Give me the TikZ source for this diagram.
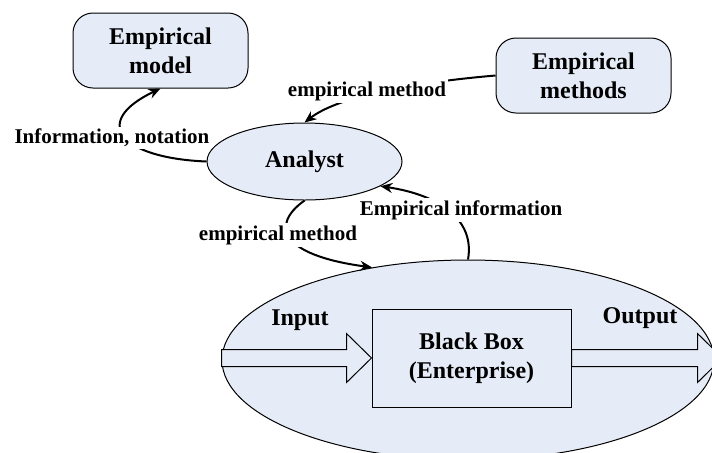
\documentclass[tikz,border=0pt]{standalone}
\usepackage{fontspec}
\setmainfont{Liberation Serif}
\usetikzlibrary{shapes.geometric,arrows.meta}
\definecolor{boxfill}{RGB}{230,236,247}

\begin{document}
\begin{tikzpicture}[x=1pt,y=1pt,
  bignode/.style={font=\fontsize{12}{14.5}\selectfont\bfseries, align=center},
  roundbox/.style={bignode, draw, line width=0.5pt, fill=boxfill, rounded corners=10pt,
    minimum width=87.5pt, minimum height=37.5pt},
  oval/.style={bignode, draw, line width=0.5pt, fill=boxfill, ellipse, inner sep=0pt},
  flowlabel/.style={font=\fontsize{10.5}{12}\selectfont\bfseries, fill=white, inner sep=1pt},
  link/.style={line width=1pt, -{Stealth[length=6pt,width=5pt]}},
  fatarrow/.style={draw, line width=0.5pt, fill=boxfill}]
\useasboundingbox (0,0) rectangle (356,-226);
\clip (0,0) rectangle (356,-226);

% the enterprise and its black box
\node[oval, minimum width=246pt, minimum height=100pt] (env) at (234,-180) {};
\node[bignode, draw, line width=0.5pt, fill=boxfill, minimum width=99.5pt,
  minimum height=49pt] (bbox) at (235.75,-179) {Black Box\\(Enterprise)};
\draw[fatarrow] (bbox.west) -- ++(-12.5,12.25) -- ++(0,-8) -- ++(-62.5,0) -- ++(0,-8.5)
  -- ++(62.5,0) -- ++(0,-8) -- cycle;
\draw[fatarrow] (bbox.east) ++(0,4.25) -- ++(63,0) -- ++(0,8) -- ++(12.5,-12.25)
  -- ++(-12.5,-12.25) -- ++(0,8) -- ++(-63,0) -- cycle;
\node[bignode] (inlbl) at (150,-160) {Input};
\node[bignode] (outlbl) at (320,-159) {Output};

\node[oval, minimum width=97.5pt, minimum height=38.5pt] (analyst) at (152.25,-80.75) {Analyst};
\node[roundbox] (model) at (80.25,-25.25) {Empirical\\model};
\node[roundbox] (methods) at (291.75,-37.75) {Empirical\\methods};

% connectors, the labels sit on top of them
\draw[link] (analyst.west) .. controls (60,-79) and (45,-61) .. (model.south);
\draw[link] (methods.west) .. controls (210,-41) and (170,-47.5) .. (analyst.north);
\draw[link] (env.north) .. controls (237.5,-110) and (220,-97.5) .. (analyst.-18);
\draw[link] (analyst.south) .. controls (135,-112.5) and (140,-127.5) .. (env.136);

\node[flowlabel] (infolbl) at (56,-69) {Information, notation};
\node[flowlabel] (methlbl) at (183.5,-45.5) {empirical method};
\node[flowlabel] (datalbl) at (230.5,-105) {Empirical information};
\node[flowlabel] (usagelbl) at (139,-117.5) {empirical method};
\end{tikzpicture}
\end{document}
